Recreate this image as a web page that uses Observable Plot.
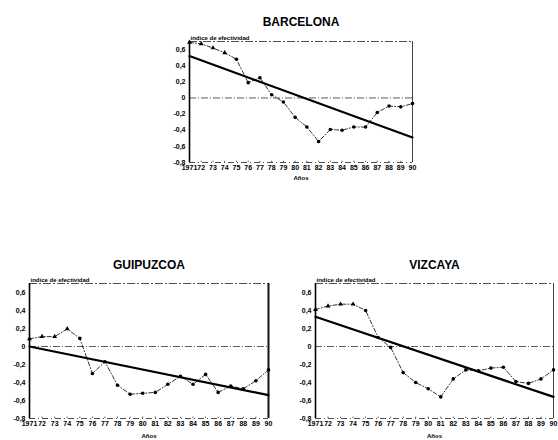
<!DOCTYPE html>
<html>
<head>
<meta charset="utf-8">
<script src="https://cdn.jsdelivr.net/npm/d3@7"></script>
<script src="https://cdn.jsdelivr.net/npm/@observablehq/plot@0.6"></script>
<style>
  html, body { margin: 0; padding: 0; background: #fff; }
  #root { position: relative; width: 558px; height: 440px; overflow: hidden; background: #fff; }
  #root > div { position: absolute; }
  svg { overflow: visible; }
</style>
</head>
<body>
<div id="root"></div>
<script>
// ---- data ----
const years = [1971, 1972, 1973, 1974, 1975, 1976, 1977, 1978, 1979, 1980,
               1981, 1982, 1983, 1984, 1985, 1986, 1987, 1988, 1989, 1990];
const yearLabels = ["1971", "72", "73", "74", "75", "76", "77", "78", "79", "80",
                    "81", "82", "83", "84", "85", "86", "87", "88", "89", "90"];
const yTicks = [0.6, 0.4, 0.2, 0, -0.2, -0.4, -0.6, -0.8];
const yTickLabels = ["0,6", "0,4", "0,2", "0", "-0,2", "-0,4", "-0,6", "-0,8"];

const barcelona = [0.69, 0.67, 0.62, 0.56, 0.48, 0.19, 0.25, 0.04, -0.05, -0.24,
                   -0.36, -0.54, -0.39, -0.40, -0.36, -0.36, -0.18, -0.10, -0.11, -0.07];
const guipuzcoa = [0.085, 0.11, 0.11, 0.196, 0.09, -0.30, -0.17, -0.43, -0.53, -0.52,
                   -0.51, -0.42, -0.33, -0.42, -0.31, -0.51, -0.44, -0.47, -0.38, -0.26];
const vizcaya = [0.41, 0.45, 0.47, 0.47, 0.40, 0.10, -0.01, -0.29, -0.40, -0.47,
                 -0.56, -0.36, -0.26, -0.27, -0.24, -0.23, -0.39, -0.41, -0.36, -0.26];

const trendYears = [1971, 1990];
const barcelonaTrend = [0.52, -0.49];
const guipuzcoaTrend = [0.0, -0.54];
const vizcayaTrend = [0.33, -0.56];

const titles = ["BARCELONA", "GUIPUZCOA", "VIZCAYA"];
const yAxisTitle = "indice de efectividad";
const xAxisTitle = "Años";

// ---- drawing ----
const FONT = "'Liberation Sans', Arial, sans-serif";

function chart(opts) {
  const series = years.map((y, i) => ({year: y, value: opts.values[i]}));
  const trend = trendYears.map((y, i) => ({year: y, value: opts.trend[i]}));
  const fmtX = d => yearLabels[years.indexOf(d)];
  const fmtY = d => yTickLabels[yTicks.findIndex(t => Math.abs(t - d) < 1e-9)];
  const p = Plot.plot({
    width: opts.width,
    height: opts.height,
    marginLeft: opts.ml,
    marginRight: opts.mr,
    marginTop: opts.mt,
    marginBottom: opts.mb,
    style: {fontFamily: FONT, background: "transparent", color: "#000"},
    x: {domain: [1971, 1990], axis: null, label: null},
    y: {domain: [-0.8, 0.7], axis: null, label: null},
    marks: [
      // top and bottom dash-dot borders
      Plot.ruleY([0.7], {stroke: "#222", strokeWidth: 0.8, strokeDasharray: "8,2,2,2"}),
      Plot.ruleY([-0.8], {stroke: "#222", strokeWidth: 0.8, strokeDasharray: "6,3,1,3"}),
      Plot.ruleX(years, {x: d => d, y1: -0.8, y2: -0.785, stroke: "#222", strokeWidth: 0.8}),
      // zero line
      Plot.ruleY([0], {stroke: "#333", strokeWidth: 0.8, strokeDasharray: "7,2,1,2"}),
      // right border
      Plot.ruleX([1990], {stroke: "#111", strokeWidth: opts.rightW}),
      // left axis
      Plot.ruleX([1971], {stroke: "#000", strokeWidth: 1.6}),
      // axes
      Plot.axisY(yTicks, {tickSize: 0, tickPadding: 4, tickFormat: fmtY, fontSize: 7, fontWeight: "bold", label: null}),
      Plot.axisX(years, {tickSize: 0, tickPadding: 3, tickFormat: fmtX, fontSize: 7, fontWeight: "bold", label: null}),
      // data
      Plot.line(series, {x: "year", y: "value", stroke: "#000", strokeWidth: 0.8, strokeDasharray: "4,2,1,2"}),
      Plot.dot(series, {x: "year", y: "value", fill: "#000", r: 1.8,
        symbol: d => d.year < 1975 ? "triangle" : "circle"}),
      Plot.line(trend, {x: "year", y: "value", stroke: "#000", strokeWidth: 2.2}),
      // titles
      Plot.text([opts.title], {frameAnchor: "top", dy: opts.titleDy, text: d => d,
        fontSize: 12, fontWeight: "bold", letterSpacing: "-0.4px"}),
      Plot.text([yAxisTitle], {frameAnchor: "top-left", textAnchor: "start", dx: 1, dy: opts.ylabDy,
        text: d => d, fontSize: 6, fontWeight: "bold"}),
      Plot.text([xAxisTitle], {frameAnchor: "bottom", dy: opts.xlabDy, text: d => d,
        fontSize: 6, fontWeight: "bold"})
    ]
  });
  const wrap = document.createElement("div");
  wrap.style.left = opts.left + "px";
  wrap.style.top = opts.top + "px";
  wrap.appendChild(p);
  document.getElementById("root").appendChild(wrap);
}

chart({title: titles[0], values: barcelona, trend: barcelonaTrend,
  left: 150, top: 0, width: 270, height: 190, ml: 39, mr: 8, mt: 41, mb: 28,
  titleDy: -24, ylabDy: -6, xlabDy: 17, rightW: 0.8});
chart({title: titles[1], values: guipuzcoa, trend: guipuzcoaTrend,
  left: 0, top: 240, width: 278, height: 200, ml: 29, mr: 10, mt: 43, mb: 22,
  titleDy: -23, ylabDy: -6, xlabDy: 19, rightW: 2});
chart({title: titles[2], values: vizcaya, trend: vizcayaTrend,
  left: 282, top: 240, width: 276, height: 200, ml: 33, mr: 5, mt: 43, mb: 22,
  titleDy: -23, ylabDy: -6, xlabDy: 19, rightW: 0.8});
</script>
</body>
</html>
